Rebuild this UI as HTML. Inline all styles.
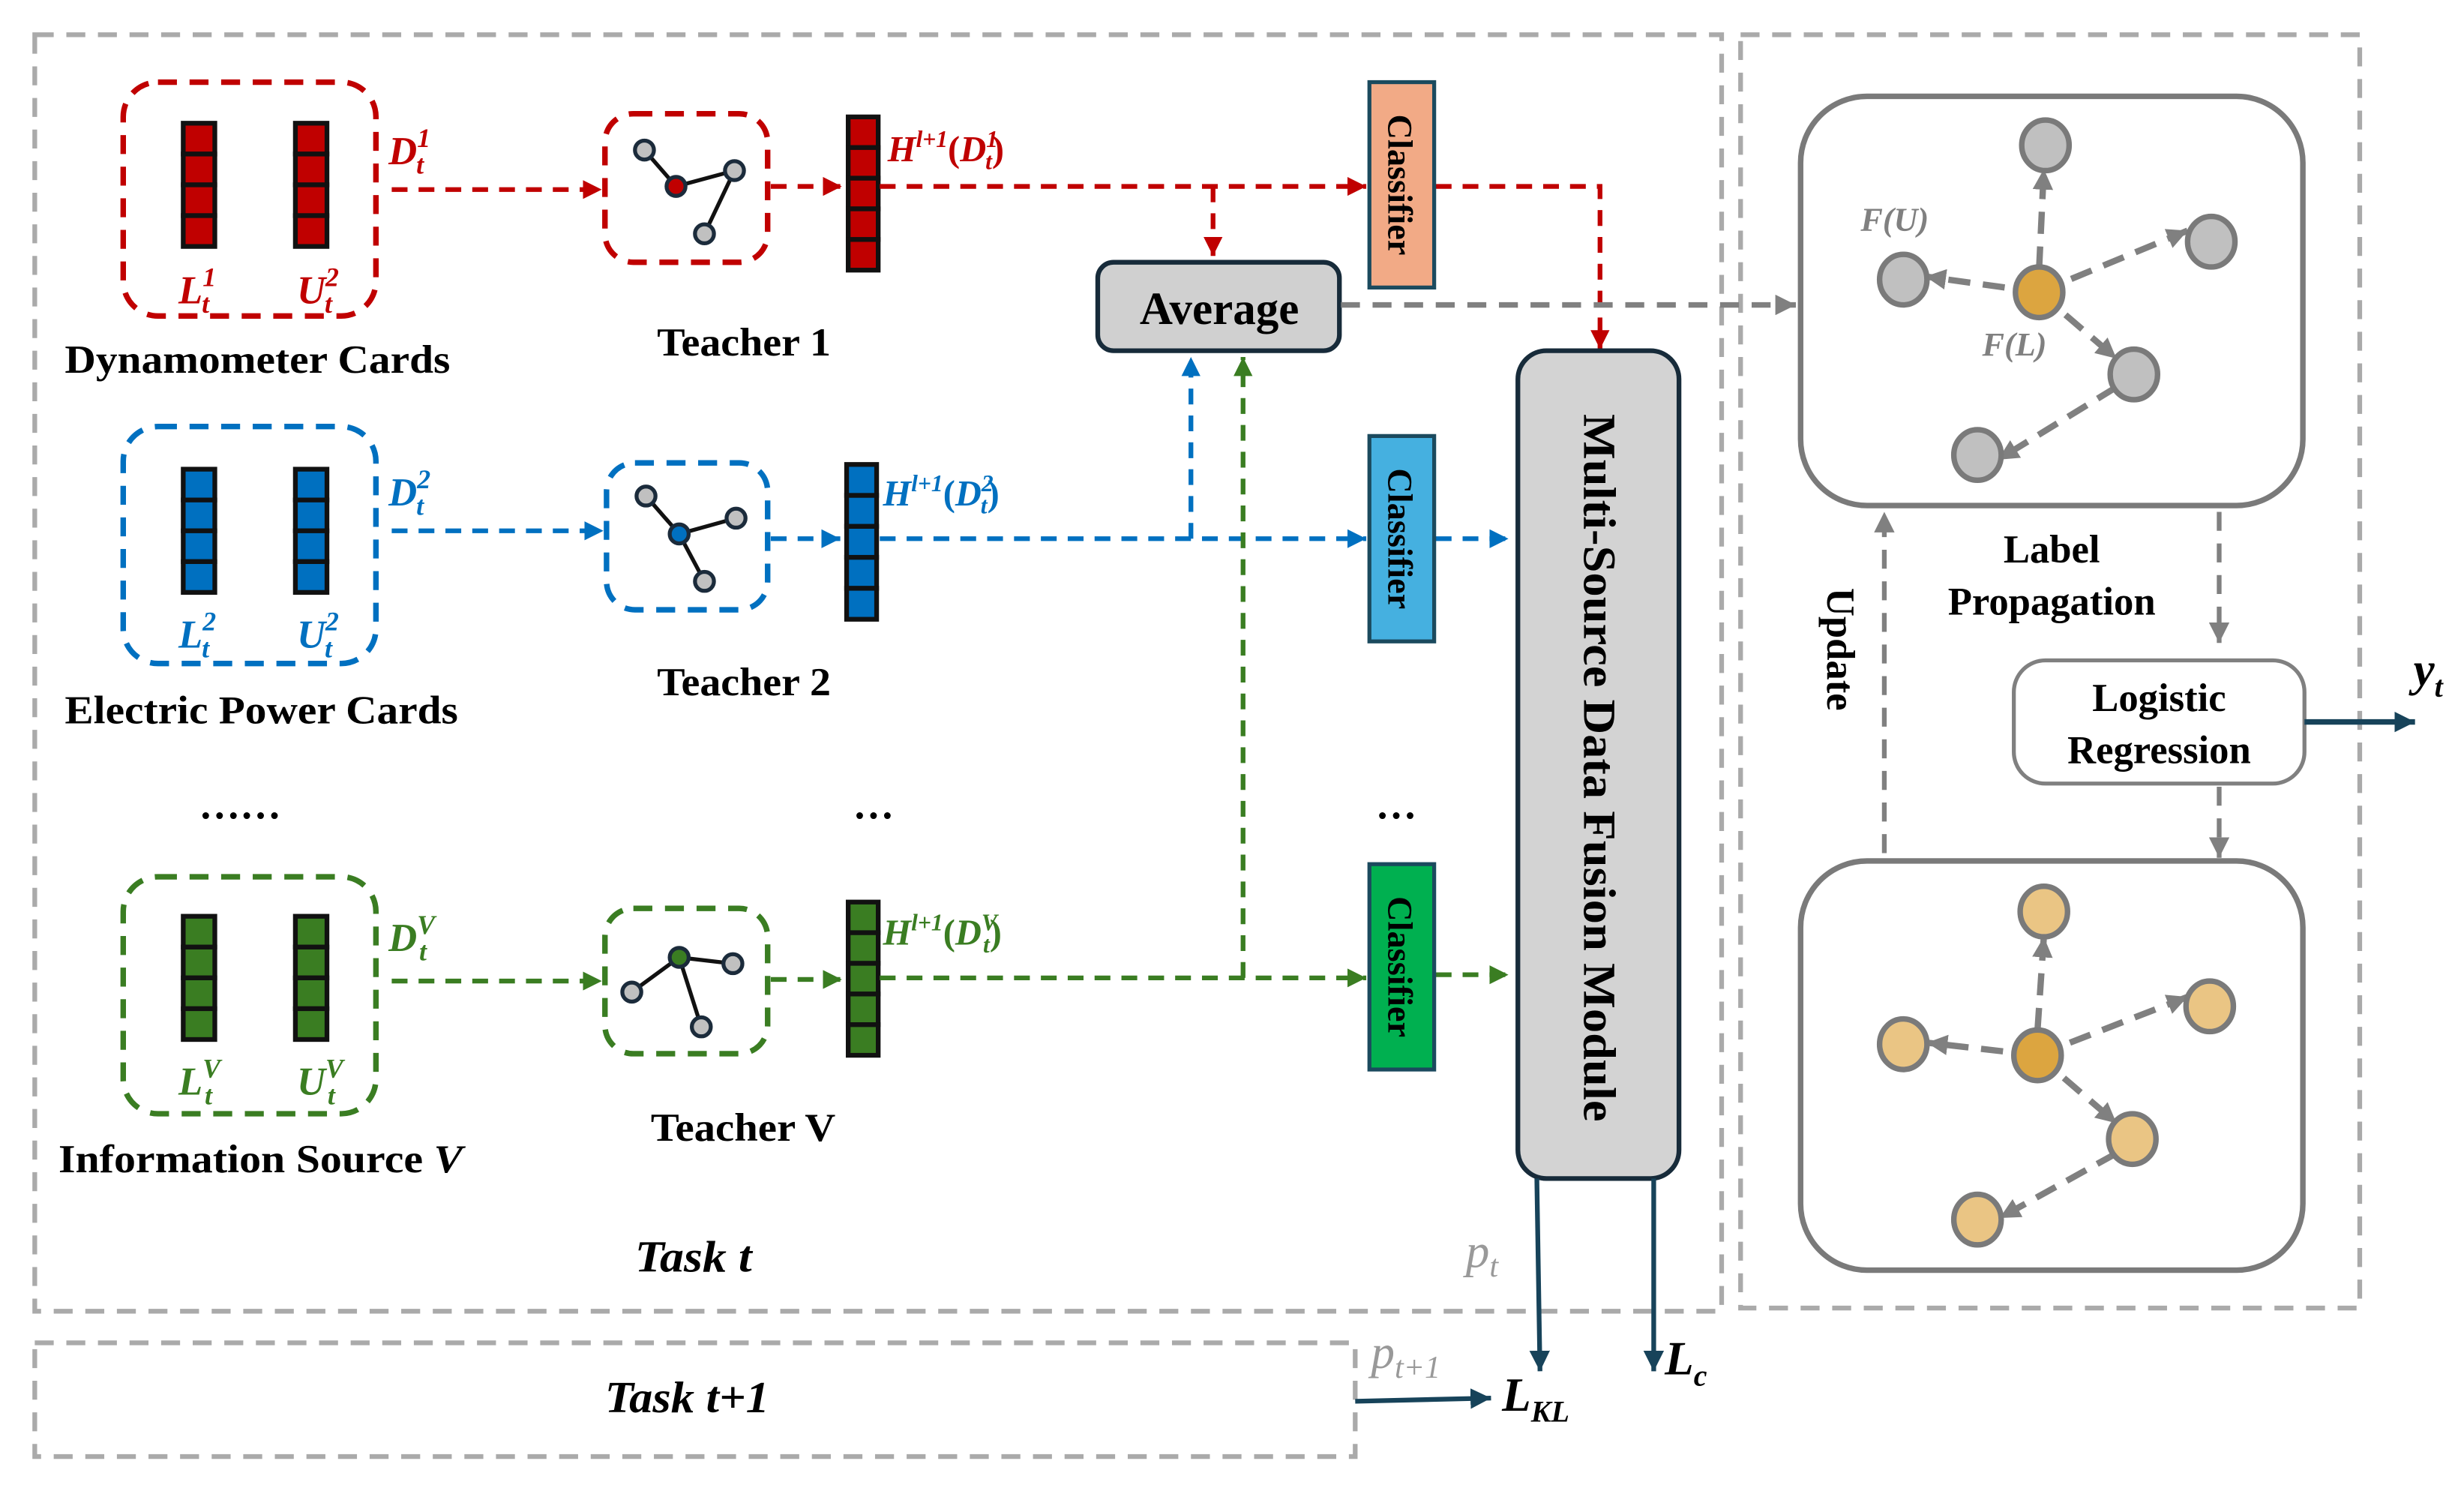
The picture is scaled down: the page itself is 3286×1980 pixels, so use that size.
<!DOCTYPE html>
<html><head><meta charset="utf-8"><style>html,body{margin:0;padding:0;background:#fff}svg{display:block}</style></head><body>
<svg xmlns="http://www.w3.org/2000/svg" width="3286" height="1980" viewBox="0 0 1560 940">
<defs>
<marker id="ar" markerWidth="12" markerHeight="12" refX="10" refY="5" orient="auto" markerUnits="userSpaceOnUse" viewBox="0 0 10 10"><path d="M0,0 L10,5 L0,10z" fill="#c00000"/></marker>
<marker id="ab" markerWidth="12" markerHeight="12" refX="10" refY="5" orient="auto" markerUnits="userSpaceOnUse" viewBox="0 0 10 10"><path d="M0,0 L10,5 L0,10z" fill="#0070c0"/></marker>
<marker id="ag" markerWidth="12" markerHeight="12" refX="10" refY="5" orient="auto" markerUnits="userSpaceOnUse" viewBox="0 0 10 10"><path d="M0,0 L10,5 L0,10z" fill="#3a7d22"/></marker>
<marker id="ay" markerWidth="13" markerHeight="13" refX="10" refY="5" orient="auto" markerUnits="userSpaceOnUse" viewBox="0 0 10 10"><path d="M0,0 L10,5 L0,10z" fill="#808080"/></marker>
<marker id="ad" markerWidth="13" markerHeight="13" refX="10" refY="5" orient="auto" markerUnits="userSpaceOnUse" viewBox="0 0 10 10"><path d="M0,0 L10,5 L0,10z" fill="#17435a"/></marker>
</defs>
<g font-family="Liberation Serif, serif" font-weight="bold">
<g fill="none" stroke="#aaa" stroke-width="3" stroke-dasharray="12,8">
<rect x="22" y="22" width="1068" height="808"/>
<rect x="1102" y="22" width="392" height="806"/>
<rect x="22" y="850" width="836" height="72"/>
</g>

<!-- RED ROW -->
<rect x="78" y="52" width="160" height="148" rx="22" fill="none" stroke="#c00000" stroke-width="3.5" stroke-dasharray="12,8"/>
<g fill="#c00000" stroke="#111" stroke-width="3">
<rect x="116" y="78" width="20" height="19.5"/><rect x="116" y="97.5" width="20" height="19.5"/><rect x="116" y="117" width="20" height="19.5"/><rect x="116" y="136.5" width="20" height="19.5"/>
<rect x="187" y="78" width="20" height="19.5"/><rect x="187" y="97.5" width="20" height="19.5"/><rect x="187" y="117" width="20" height="19.5"/><rect x="187" y="136.5" width="20" height="19.5"/>
<rect x="537" y="74" width="19" height="19.4"/><rect x="537" y="93.4" width="19" height="19.4"/><rect x="537" y="112.8" width="19" height="19.4"/><rect x="537" y="132.2" width="19" height="19.4"/><rect x="537" y="151.6" width="19" height="19.4"/>
</g>
<g fill="#c00000" font-style="italic" font-size="25">
<text x="113" y="192">L<tspan font-size="17" dy="-11">1</tspan><tspan font-size="17" dx="-9" dy="17">t</tspan></text>
<text x="188" y="192">U<tspan font-size="17" dy="-11">2</tspan><tspan font-size="17" dx="-9" dy="17">t</tspan></text>
<text x="246" y="104">D<tspan font-size="17" dy="-11">1</tspan><tspan font-size="17" dx="-9" dy="17">t</tspan></text>
<text x="562" y="102" font-size="23">H<tspan font-size="15" dy="-9">l+1</tspan><tspan dy="9" font-style="normal">(</tspan>D<tspan font-size="15" dy="-9">1</tspan><tspan font-size="15" dx="-8" dy="14">t</tspan><tspan dy="-5" font-style="normal">)</tspan></text>
</g>
<text x="41" y="236" font-size="25" textLength="244" lengthAdjust="spacingAndGlyphs">Dynamometer Cards</text>
<rect x="383" y="72" width="103" height="94" rx="18" fill="none" stroke="#c00000" stroke-width="3.5" stroke-dasharray="12,8"/>
<g stroke="#111" stroke-width="2.5"><line x1="408" y1="95" x2="428" y2="118"/><line x1="428" y1="118" x2="465" y2="108"/><line x1="465" y1="108" x2="446" y2="148"/></g>
<g stroke="#1b2b3b" stroke-width="2.5" fill="#c0c0c0"><circle cx="408" cy="95" r="6"/><circle cx="465" cy="108" r="6"/><circle cx="446" cy="148" r="6"/><circle cx="428" cy="118" r="6" fill="#c00000"/></g>
<g fill="none" stroke="#c00000" stroke-width="3" stroke-dasharray="10,7">
<line x1="248" y1="120" x2="381" y2="120" marker-end="url(#ar)"/>
<line x1="488" y1="118" x2="533" y2="118" marker-end="url(#ar)"/>
<line x1="557" y1="118" x2="865" y2="118" marker-end="url(#ar)"/>
<line x1="768" y1="118" x2="768" y2="162" marker-end="url(#ar)"/>
<polyline points="909,118 1013,118 1013,221" marker-end="url(#ar)"/>
</g>

<!-- BLUE ROW -->
<rect x="78" y="270" width="160" height="150" rx="22" fill="none" stroke="#0070c0" stroke-width="3.5" stroke-dasharray="12,8"/>
<g fill="#0070c0" stroke="#111" stroke-width="3">
<rect x="116" y="297" width="20" height="19.5"/><rect x="116" y="316.5" width="20" height="19.5"/><rect x="116" y="336" width="20" height="19.5"/><rect x="116" y="355.5" width="20" height="19.5"/>
<rect x="187" y="297" width="20" height="19.5"/><rect x="187" y="316.5" width="20" height="19.5"/><rect x="187" y="336" width="20" height="19.5"/><rect x="187" y="355.5" width="20" height="19.5"/>
<rect x="536" y="294" width="19" height="19.6"/><rect x="536" y="313.6" width="19" height="19.6"/><rect x="536" y="333.2" width="19" height="19.6"/><rect x="536" y="352.8" width="19" height="19.6"/><rect x="536" y="372.4" width="19" height="19.6"/>
</g>
<g fill="#0070c0" font-style="italic" font-size="25">
<text x="113" y="410">L<tspan font-size="17" dy="-11">2</tspan><tspan font-size="17" dx="-9" dy="17">t</tspan></text>
<text x="188" y="410">U<tspan font-size="17" dy="-11">2</tspan><tspan font-size="17" dx="-9" dy="17">t</tspan></text>
<text x="246" y="320">D<tspan font-size="17" dy="-11">2</tspan><tspan font-size="17" dx="-9" dy="17">t</tspan></text>
<text x="559" y="320" font-size="23">H<tspan font-size="15" dy="-9">l+1</tspan><tspan dy="9" font-style="normal">(</tspan>D<tspan font-size="15" dy="-9">2</tspan><tspan font-size="15" dx="-8" dy="14">t</tspan><tspan dy="-5" font-style="normal">)</tspan></text>
</g>
<text x="41" y="458" font-size="25" textLength="249" lengthAdjust="spacingAndGlyphs">Electric Power Cards</text>
<rect x="384" y="293" width="102" height="93" rx="18" fill="none" stroke="#0070c0" stroke-width="3.5" stroke-dasharray="12,8"/>
<g stroke="#111" stroke-width="2.5"><line x1="409" y1="314" x2="430" y2="338"/><line x1="430" y1="338" x2="466" y2="328"/><line x1="430" y1="338" x2="446" y2="368"/></g>
<g stroke="#1b2b3b" stroke-width="2.5" fill="#c0c0c0"><circle cx="409" cy="314" r="6"/><circle cx="466" cy="328" r="6"/><circle cx="446" cy="368" r="6"/><circle cx="430" cy="338" r="6" fill="#0070c0"/></g>
<g fill="none" stroke="#0070c0" stroke-width="3" stroke-dasharray="10,7">
<line x1="248" y1="336" x2="382" y2="336" marker-end="url(#ab)"/>
<line x1="488" y1="341" x2="532" y2="341" marker-end="url(#ab)"/>
<line x1="557" y1="341" x2="865" y2="341" marker-end="url(#ab)"/>
<line x1="754" y1="341" x2="754" y2="226" marker-end="url(#ab)"/>
<line x1="909" y1="341" x2="955" y2="341" marker-end="url(#ab)"/>
</g>

<text x="152" y="518" font-size="26" text-anchor="middle">……</text>
<text x="553" y="518" font-size="26" text-anchor="middle">…</text>
<text x="884" y="518" font-size="26" text-anchor="middle">…</text>

<!-- GREEN ROW -->
<rect x="78" y="555" width="160" height="150" rx="22" fill="none" stroke="#3a7d22" stroke-width="3.5" stroke-dasharray="12,8"/>
<g fill="#3a7d22" stroke="#111" stroke-width="3">
<rect x="116" y="580" width="20" height="19.5"/><rect x="116" y="599.5" width="20" height="19.5"/><rect x="116" y="619" width="20" height="19.5"/><rect x="116" y="638.5" width="20" height="19.5"/>
<rect x="187" y="580" width="20" height="19.5"/><rect x="187" y="599.5" width="20" height="19.5"/><rect x="187" y="619" width="20" height="19.5"/><rect x="187" y="638.5" width="20" height="19.5"/>
<rect x="537" y="571" width="19" height="19.4"/><rect x="537" y="590.4" width="19" height="19.4"/><rect x="537" y="609.8" width="19" height="19.4"/><rect x="537" y="629.2" width="19" height="19.4"/><rect x="537" y="648.6" width="19" height="19.4"/>
</g>
<g fill="#3a7d22" font-style="italic" font-size="25">
<text x="113" y="693">L<tspan font-size="17" dy="-11">V</tspan><tspan font-size="17" dx="-10" dy="17">t</tspan></text>
<text x="188" y="693">U<tspan font-size="17" dy="-11">V</tspan><tspan font-size="17" dx="-10" dy="17">t</tspan></text>
<text x="246" y="602">D<tspan font-size="17" dy="-11">V</tspan><tspan font-size="17" dx="-10" dy="17">t</tspan></text>
<text x="559" y="598" font-size="23">H<tspan font-size="15" dy="-9">l+1</tspan><tspan dy="9" font-style="normal">(</tspan>D<tspan font-size="15" dy="-9">V</tspan><tspan font-size="15" dx="-9" dy="14">t</tspan><tspan dy="-5" font-style="normal">)</tspan></text>
</g>
<text x="37" y="742" font-size="25" textLength="256" lengthAdjust="spacingAndGlyphs">Information Source <tspan font-style="italic">V</tspan></text>
<rect x="383" y="575" width="103" height="92" rx="18" fill="none" stroke="#3a7d22" stroke-width="3.5" stroke-dasharray="12,8"/>
<g stroke="#111" stroke-width="2.5"><line x1="400" y1="628" x2="430" y2="606"/><line x1="430" y1="606" x2="464" y2="610"/><line x1="430" y1="606" x2="444" y2="650"/></g>
<g stroke="#1b2b3b" stroke-width="2.5" fill="#c0c0c0"><circle cx="400" cy="628" r="6"/><circle cx="464" cy="610" r="6"/><circle cx="444" cy="650" r="6"/><circle cx="430" cy="606" r="6" fill="#3a7d22"/></g>
<g fill="none" stroke="#3a7d22" stroke-width="3" stroke-dasharray="10,7">
<line x1="248" y1="621" x2="381" y2="621" marker-end="url(#ag)"/>
<line x1="488" y1="620" x2="533" y2="620" marker-end="url(#ag)"/>
<line x1="557" y1="619" x2="865" y2="619" marker-end="url(#ag)"/>
<line x1="787" y1="619" x2="787" y2="226" marker-end="url(#ag)"/>
<line x1="909" y1="617" x2="955" y2="617" marker-end="url(#ag)"/>
</g>

<text x="416" y="225" font-size="25" textLength="110" lengthAdjust="spacingAndGlyphs">Teacher 1</text>
<text x="416" y="440" font-size="25" textLength="110" lengthAdjust="spacingAndGlyphs">Teacher 2</text>
<text x="412" y="722" font-size="25" textLength="117" lengthAdjust="spacingAndGlyphs">Teacher V</text>

<rect x="695" y="166" width="153" height="56" rx="10" fill="#d0d0d0" stroke="#172b3a" stroke-width="3"/>
<text x="772" y="205" font-size="29" text-anchor="middle">Average</text>

<g stroke="#1b4a5e" stroke-width="2.5">
<rect x="867" y="52" width="41" height="130" fill="#f2aa86"/>
<rect x="867" y="276" width="41" height="130" fill="#45b0e0"/>
<rect x="867" y="547" width="41" height="130" fill="#00b050"/>
</g>
<g font-size="22" text-anchor="middle">
<text transform="translate(879,117) rotate(90)">Classifier</text>
<text transform="translate(879,341) rotate(90)">Classifier</text>
<text transform="translate(879,612) rotate(90)">Classifier</text>
</g>

<rect x="961" y="222" width="102" height="524" rx="18" fill="#d3d3d3" stroke="#172b3a" stroke-width="3"/>
<text transform="translate(1003,262) rotate(90)" font-size="29" textLength="448" lengthAdjust="spacingAndGlyphs">Multi-Source Data Fusion Module</text>

<line x1="849" y1="193" x2="1137" y2="193" stroke="#808080" stroke-width="3.5" stroke-dasharray="12,8" marker-end="url(#ay)"/>

<text x="402" y="805" font-size="28" font-style="italic" textLength="74" lengthAdjust="spacingAndGlyphs">Task t</text>
<text x="383" y="894" font-size="28" font-style="italic" textLength="104" lengthAdjust="spacingAndGlyphs">Task t+1</text>
<text x="928" y="802" font-size="30" font-style="italic" font-weight="normal" fill="#999">p<tspan font-size="20" dy="6">t</tspan></text>
<text x="868" y="866" font-size="30" font-style="italic" font-weight="normal" fill="#999">p<tspan font-size="20" dy="6">t+1</tspan></text>

<g stroke="#17435a" stroke-width="3" fill="none">
<line x1="973" y1="746" x2="975" y2="868" marker-end="url(#ad)"/>
<line x1="1047" y1="746" x2="1047" y2="868" marker-end="url(#ad)"/>
<line x1="858" y1="887" x2="944" y2="885" marker-end="url(#ad)"/>
</g>
<text x="951" y="893" font-size="30" font-style="italic">L<tspan font-size="19" dy="7">KL</tspan></text>
<text x="1054" y="870" font-size="30" font-style="italic">L<tspan font-size="19" dy="7">c</tspan></text>

<rect x="1140" y="61" width="318" height="259" rx="42" fill="#fff" stroke="#7a7a7a" stroke-width="3.5"/>
<rect x="1140" y="545" width="318" height="259" rx="42" fill="#fff" stroke="#7a7a7a" stroke-width="3.5"/>
<g stroke="#808080" stroke-width="4" stroke-dasharray="14,8" fill="none">
<line x1="1291" y1="170" x2="1294" y2="107" marker-end="url(#ay)"/>
<line x1="1291" y1="185" x2="1385" y2="146" marker-end="url(#ay)"/>
<line x1="1291" y1="185" x2="1219" y2="175" marker-end="url(#ay)"/>
<line x1="1291" y1="185" x2="1340" y2="227" marker-end="url(#ay)"/>
<line x1="1340" y1="245" x2="1265" y2="291" marker-end="url(#ay)"/>
<line x1="1290" y1="652" x2="1294" y2="593" marker-end="url(#ay)"/>
<line x1="1290" y1="668" x2="1385" y2="631" marker-end="url(#ay)"/>
<line x1="1290" y1="668" x2="1220" y2="660" marker-end="url(#ay)"/>
<line x1="1290" y1="668" x2="1340" y2="711" marker-end="url(#ay)"/>
<line x1="1340" y1="730" x2="1266" y2="771" marker-end="url(#ay)"/>
</g>
<g stroke="#7a7a7a" stroke-width="3.5" fill="#c0c0c0">
<ellipse cx="1295" cy="92" rx="15" ry="16"/><ellipse cx="1400" cy="153" rx="15" ry="16"/><ellipse cx="1205" cy="177" rx="15" ry="16"/><ellipse cx="1351" cy="237" rx="15" ry="16"/><ellipse cx="1252" cy="288" rx="15" ry="16"/>
<ellipse cx="1291" cy="185" rx="15" ry="16" fill="#dca540"/>
</g>
<g stroke="#7a7a7a" stroke-width="3.5" fill="#eac584">
<ellipse cx="1294" cy="577" rx="15" ry="16"/><ellipse cx="1399" cy="637" rx="15" ry="16"/><ellipse cx="1205" cy="661" rx="15" ry="16"/><ellipse cx="1350" cy="721" rx="15" ry="16"/><ellipse cx="1252" cy="772" rx="15" ry="16"/>
<ellipse cx="1290" cy="668" rx="15" ry="16" fill="#dca540"/>
</g>
<text x="1178" y="146" font-size="21" font-style="italic" fill="#808080">F(U)</text>
<text x="1255" y="225" font-size="21" font-style="italic" fill="#808080">F(L)</text>

<text x="1299" y="356" font-size="25" text-anchor="middle">Label</text>
<text x="1299" y="389" font-size="25" text-anchor="middle">Propagation</text>
<text transform="translate(1157,411) rotate(90)" font-size="25" text-anchor="middle">Update</text>
<g stroke="#808080" stroke-width="3" stroke-dasharray="12,8" fill="none">
<line x1="1193" y1="540" x2="1193" y2="324" marker-end="url(#ay)"/>
<line x1="1405" y1="324" x2="1405" y2="407" marker-end="url(#ay)"/>
<line x1="1405" y1="498" x2="1405" y2="543" marker-end="url(#ay)"/>
</g>
<rect x="1275" y="418" width="184" height="78" rx="20" fill="#fff" stroke="#808080" stroke-width="2.5"/>
<text x="1367" y="450" font-size="25" text-anchor="middle">Logistic</text>
<text x="1367" y="483" font-size="25" text-anchor="middle">Regression</text>
<line x1="1459" y1="457" x2="1529" y2="457" stroke="#17435a" stroke-width="3.5" marker-end="url(#ad)"/>
<text x="1528" y="434" font-size="30" font-style="italic">y<tspan font-size="19" dy="7">t</tspan></text>
</g>
</svg>
</body></html>
